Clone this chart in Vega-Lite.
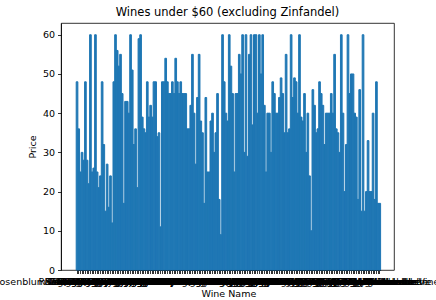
{
"$schema": "https://vega.github.io/schema/vega-lite/v6.json",
"width": 333, "height": 247,
"autosize": {"type": "none"},
"padding": {"left": 61, "top": 23, "right": 42, "bottom": 30},
"title": {"text": "Wines under $60 (excluding Zinfandel)", "font": "DejaVu Sans", "fontSize": 11.5, "fontWeight": "normal", "color": "black", "offset": 5},
"data": {"values": [
{"name":"Rosenblum Cellars Rominger Syrah","price":48},
{"name":"Ridge Syrah","price":36},
{"name":"Rafanelli Syrah","price":25},
{"name":"Seghesio Syrah","price":30},
{"name":"Ravenswood Syrah","price":28},
{"name":"Turley Syrah","price":48},
{"name":"Bogle Syrah","price":28},
{"name":"Renwood Syrah","price":22},
{"name":"Dashe Syrah","price":60},
{"name":"Quivira Syrah","price":25},
{"name":"Carol Shelton Syrah","price":26},
{"name":"Storybook Syrah","price":60},
{"name":"Edmeades Syrah","price":25},
{"name":"Frog's Leap Syrah","price":21},
{"name":"Peachy Canyon Syrah","price":24},
{"name":"Hartford Syrah","price":48},
{"name":"Kunde Syrah","price":32},
{"name":"Sobon Syrah","price":15},
{"name":"Easton Syrah","price":27},
{"name":"Cline Syrah","price":16},
{"name":"Mauritson Syrah","price":24},
{"name":"Ridge Petite Sirah","price":12},
{"name":"Rafanelli Petite Sirah","price":48},
{"name":"Seghesio Petite Sirah","price":60},
{"name":"Ravenswood Petite Sirah","price":56},
{"name":"Turley Petite Sirah","price":52},
{"name":"Bogle Petite Sirah","price":55},
{"name":"Renwood Petite Sirah","price":45},
{"name":"Dashe Petite Sirah","price":17},
{"name":"Quivira Petite Sirah","price":43},
{"name":"Carol Shelton Petite Sirah","price":43},
{"name":"Storybook Petite Sirah","price":40},
{"name":"Edmeades Petite Sirah","price":60},
{"name":"Frog's Leap Petite Sirah","price":51},
{"name":"Peachy Canyon Petite Sirah","price":32},
{"name":"Hartford Petite Sirah","price":36},
{"name":"Kunde Petite Sirah","price":21},
{"name":"Sobon Petite Sirah","price":59},
{"name":"Easton Petite Sirah","price":60},
{"name":"Cline Petite Sirah","price":39},
{"name":"Mauritson Petite Sirah","price":36},
{"name":"Ridge Merlot","price":35},
{"name":"Rafanelli Merlot","price":48},
{"name":"Seghesio Merlot","price":39},
{"name":"Ravenswood Merlot","price":42},
{"name":"Turley Merlot","price":39},
{"name":"Bogle Merlot","price":48},
{"name":"Renwood Merlot","price":48},
{"name":"Dashe Merlot","price":34},
{"name":"Quivira Merlot","price":35},
{"name":"Carol Shelton Merlot","price":11},
{"name":"Storybook Merlot","price":48},
{"name":"Edmeades Merlot","price":48},
{"name":"Frog's Leap Merlot","price":54},
{"name":"Peachy Canyon Merlot","price":48},
{"name":"Hartford Merlot","price":45},
{"name":"Kunde Merlot","price":45},
{"name":"Sobon Merlot","price":48},
{"name":"Easton Merlot","price":45},
{"name":"Cline Merlot","price":54},
{"name":"Mauritson Merlot","price":48},
{"name":"Ridge Cabernet Sauvignon","price":45},
{"name":"Rafanelli Cabernet Sauvignon","price":48},
{"name":"Seghesio Cabernet Sauvignon","price":45},
{"name":"Ravenswood Cabernet Sauvignon","price":45},
{"name":"Turley Cabernet Sauvignon","price":45},
{"name":"Bogle Cabernet Sauvignon","price":36},
{"name":"Renwood Cabernet Sauvignon","price":36},
{"name":"Dashe Cabernet Sauvignon","price":42},
{"name":"Quivira Cabernet Sauvignon","price":55},
{"name":"Carol Shelton Cabernet Sauvignon","price":40},
{"name":"Storybook Cabernet Sauvignon","price":27},
{"name":"Edmeades Cabernet Sauvignon","price":44},
{"name":"Frog's Leap Cabernet Sauvignon","price":55},
{"name":"Peachy Canyon Cabernet Sauvignon","price":38},
{"name":"Hartford Cabernet Sauvignon","price":35},
{"name":"Kunde Cabernet Sauvignon","price":17},
{"name":"Sobon Cabernet Sauvignon","price":44},
{"name":"Easton Cabernet Sauvignon","price":25},
{"name":"Cline Cabernet Sauvignon","price":25},
{"name":"Mauritson Cabernet Sauvignon","price":38},
{"name":"Ridge Pinot Noir","price":40},
{"name":"Rafanelli Pinot Noir","price":30},
{"name":"Seghesio Pinot Noir","price":35},
{"name":"Ravenswood Pinot Noir","price":45},
{"name":"Turley Pinot Noir","price":18},
{"name":"Bogle Pinot Noir","price":9},
{"name":"Renwood Pinot Noir","price":60},
{"name":"Dashe Pinot Noir","price":48},
{"name":"Quivira Pinot Noir","price":40},
{"name":"Carol Shelton Pinot Noir","price":38},
{"name":"Storybook Pinot Noir","price":60},
{"name":"Edmeades Pinot Noir","price":52},
{"name":"Frog's Leap Pinot Noir","price":45},
{"name":"Peachy Canyon Pinot Noir","price":25},
{"name":"Hartford Pinot Noir","price":45},
{"name":"Kunde Pinot Noir","price":45},
{"name":"Sobon Pinot Noir","price":55},
{"name":"Easton Pinot Noir","price":50},
{"name":"Cline Pinot Noir","price":60},
{"name":"Mauritson Pinot Noir","price":30},
{"name":"Ridge Barbera","price":60},
{"name":"Rafanelli Barbera","price":29},
{"name":"Seghesio Barbera","price":55},
{"name":"Ravenswood Barbera","price":60},
{"name":"Turley Barbera","price":37},
{"name":"Bogle Barbera","price":60},
{"name":"Renwood Barbera","price":60},
{"name":"Dashe Barbera","price":40},
{"name":"Quivira Barbera","price":60},
{"name":"Carol Shelton Barbera","price":50},
{"name":"Storybook Barbera","price":60},
{"name":"Edmeades Barbera","price":42},
{"name":"Frog's Leap Barbera","price":25},
{"name":"Peachy Canyon Barbera","price":40},
{"name":"Hartford Barbera","price":40},
{"name":"Kunde Barbera","price":30},
{"name":"Sobon Barbera","price":48},
{"name":"Easton Barbera","price":45},
{"name":"Cline Barbera","price":40},
{"name":"Mauritson Barbera","price":40},
{"name":"Ridge Sangiovese","price":44},
{"name":"Rafanelli Sangiovese","price":49},
{"name":"Seghesio Sangiovese","price":45},
{"name":"Ravenswood Sangiovese","price":35},
{"name":"Turley Sangiovese","price":55},
{"name":"Bogle Sangiovese","price":35},
{"name":"Renwood Sangiovese","price":36},
{"name":"Dashe Sangiovese","price":60},
{"name":"Quivira Sangiovese","price":44},
{"name":"Carol Shelton Sangiovese","price":49},
{"name":"Storybook Sangiovese","price":48},
{"name":"Edmeades Sangiovese","price":40},
{"name":"Frog's Leap Sangiovese","price":60},
{"name":"Peachy Canyon Sangiovese","price":39},
{"name":"Hartford Sangiovese","price":38},
{"name":"Kunde Sangiovese","price":45},
{"name":"Sobon Sangiovese","price":30},
{"name":"Easton Sangiovese","price":40},
{"name":"Cline Sangiovese","price":24},
{"name":"Mauritson Sangiovese","price":10},
{"name":"Ridge Carignane","price":46},
{"name":"Rafanelli Carignane","price":42},
{"name":"Seghesio Carignane","price":35},
{"name":"Ravenswood Carignane","price":36},
{"name":"Turley Carignane","price":48},
{"name":"Bogle Carignane","price":45},
{"name":"Renwood Carignane","price":42},
{"name":"Dashe Carignane","price":32},
{"name":"Quivira Carignane","price":40},
{"name":"Carol Shelton Carignane","price":40},
{"name":"Storybook Carignane","price":40},
{"name":"Edmeades Carignane","price":45},
{"name":"Frog's Leap Carignane","price":40},
{"name":"Peachy Canyon Carignane","price":55},
{"name":"Hartford Carignane","price":36},
{"name":"Kunde Carignane","price":35},
{"name":"Sobon Carignane","price":30},
{"name":"Easton Carignane","price":60},
{"name":"Cline Carignane","price":40},
{"name":"Mauritson Carignane","price":20},
{"name":"Ridge Mourvedre","price":32},
{"name":"Rafanelli Mourvedre","price":60},
{"name":"Seghesio Mourvedre","price":45},
{"name":"Ravenswood Mourvedre","price":50},
{"name":"Turley Mourvedre","price":50},
{"name":"Bogle Mourvedre","price":40},
{"name":"Renwood Mourvedre","price":39},
{"name":"Dashe Mourvedre","price":18},
{"name":"Quivira Mourvedre","price":46},
{"name":"Carol Shelton Mourvedre","price":15},
{"name":"Storybook Mourvedre","price":60},
{"name":"Edmeades Mourvedre","price":15},
{"name":"Frog's Leap Mourvedre","price":20},
{"name":"Peachy Canyon Mourvedre","price":33},
{"name":"Hartford Mourvedre","price":20},
{"name":"Kunde Mourvedre","price":20},
{"name":"Sobon Mourvedre","price":40},
{"name":"Easton Mourvedre","price":18},
{"name":"Cline Mourvedre","price":48},
{"name":"Mauritson Mourvedre","price":17},
{"name":"Chateau Potelle Bedrock Vineyard","price":17}
]},
"mark": {"type": "bar", "color": "#1f77b4", "stroke": "#1f77b4", "strokeWidth": 1},
"encoding": {
  "x": {"field": "name", "type": "nominal", "sort": null, "title": "Wine Name",
        "scale": {"paddingInner": 0, "paddingOuter": 0, "range": [15.2, 319.6]},
        "axis": {"labelAngle": 0, "labelOverlap": false, "labelLimit": 400, "labelFont": "DejaVu Sans", "labelFontSize": 9.5, "labelColor": "black", "labelPadding": 3,
                 "tickColor": "black", "tickSize": 3.5, "tickWidth": 0.8, "domainColor": "black", "domainWidth": 0.8,
                 "titleFont": "DejaVu Sans", "titleFontSize": 9.5, "titleFontWeight": "normal", "titleColor": "black", "titlePadding": 2}},
  "y": {"field": "price", "type": "quantitative", "title": "Price",
        "scale": {"domain": [0, 63], "nice": false},
        "axis": {"values": [0, 10, 20, 30, 40, 50, 60], "grid": false, "labelFont": "DejaVu Sans", "labelFontSize": 9.5, "labelColor": "black", "labelPadding": 3,
                 "tickColor": "black", "tickSize": 3.5, "tickWidth": 0.8, "domainColor": "black", "domainWidth": 0.8,
                 "titleFont": "DejaVu Sans", "titleFontSize": 9.5, "titleFontWeight": "normal", "titleColor": "black", "titlePadding": 5}}
},
"config": {"view": {"stroke": "black", "strokeWidth": 0.8}, "background": "white"}
}
